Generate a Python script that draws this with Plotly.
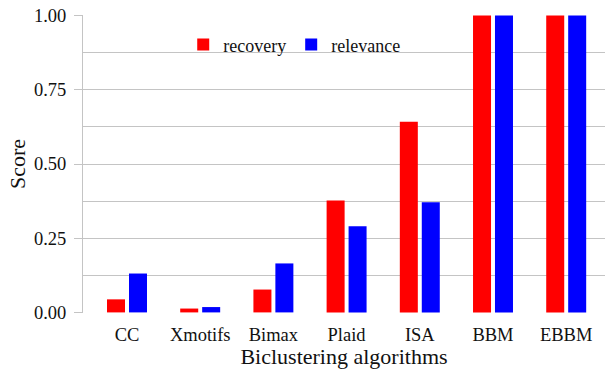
import plotly.graph_objects as go

algorithms = ["CC", "Xmotifs", "Bimax", "Plaid", "ISA", "BBM", "EBBM"]
recovery = [0.044, 0.013, 0.077, 0.377, 0.642, 1.0, 1.0]
relevance = [0.131, 0.018, 0.165, 0.290, 0.371, 1.0, 1.0]
y_ticks = [0, 0.25, 0.5, 0.75, 1.0]
y_tick_labels = ["0.00", "0.25", "0.50", "0.75", "1.00"]

FONT = "Liberation Serif"
GRID = "#C4C4C4"

fig = go.Figure()
fig.add_trace(go.Bar(name="recovery", x=algorithms, y=recovery,
                     marker=dict(color="#FF0000", line=dict(width=0))))
fig.add_trace(go.Bar(name="relevance", x=algorithms, y=relevance,
                     marker=dict(color="#0000FF", line=dict(width=0))))

fig.update_layout(
    width=605, height=370,
    margin=dict(l=83, r=0, t=15, b=57),
    paper_bgcolor="white", plot_bgcolor="white",
    barmode="group", bargap=0.40, bargroupgap=0.18,
    font=dict(family=FONT, color="#111111"),
    legend=dict(orientation="h", x=0.192, y=0.90, xanchor="left", yanchor="middle",
                bgcolor="rgba(0,0,0,0)", font=dict(size=18, family=FONT)),
    xaxis=dict(
        range=[-0.601, 6.53], showgrid=False, zeroline=False, showline=False,
        ticks="", tickfont=dict(size=18.5, family=FONT, color="#111111"),
        ticklabelstandoff=8,
        title=dict(text="Biclustering algorithms", font=dict(size=22, family=FONT),
                   standoff=3),
    ),
    yaxis=dict(
        range=[-0.002, 1.002], tickvals=y_ticks, ticktext=y_tick_labels,
        showgrid=True, gridcolor=GRID, gridwidth=1,
        minor=dict(dtick=0.125, tick0=0, showgrid=True, gridcolor=GRID, gridwidth=1, ticks=""),
        zeroline=False, showline=True, linecolor=GRID, linewidth=1,
        ticks="outside", ticklen=8, tickcolor=GRID, tickwidth=1,
        tickfont=dict(size=18.5, family=FONT, color="#111111"),
        ticklabelstandoff=4,
        title=dict(text="Score", font=dict(size=22, family=FONT), standoff=2),
    ),
)

fig.write_html("out.html")
